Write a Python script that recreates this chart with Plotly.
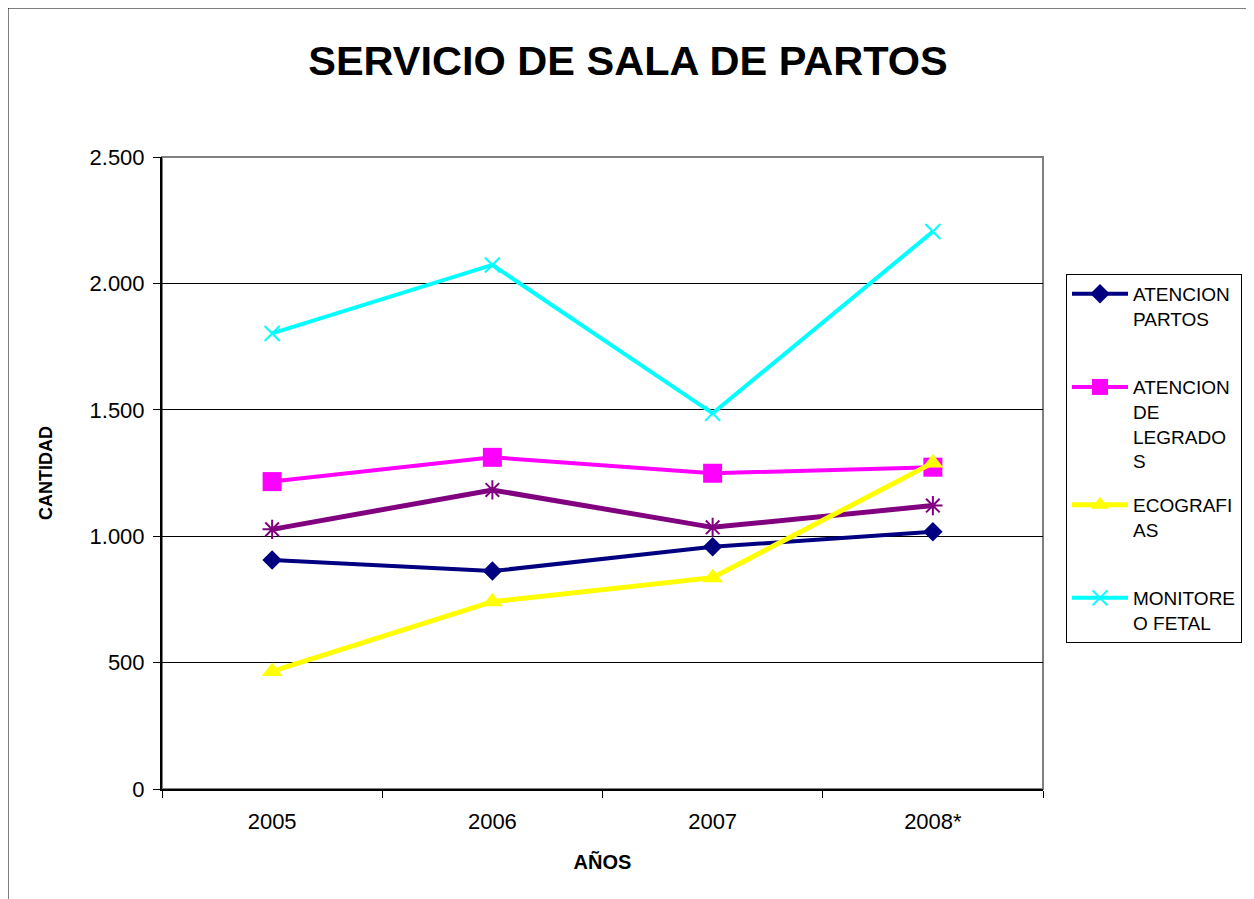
import plotly.graph_objects as go

# data
YEARS = ["2005", "2006", "2007", "2008*"]
ATENCION_PARTOS = [906, 862, 958, 1018]
ATENCION_LEGRADOS = [1216, 1312, 1249, 1273]
ECOGRAFIAS = [465, 741, 836, 1290]
MONITOREO_FETAL = [1802, 2073, 1486, 2205]
OTROS = [1027, 1183, 1035, 1121]  # purple series, cut off in the legend

# page has an 8px body margin, so the figure is laid out 8px smaller
OFF = 8
W, H = 1254 - OFF, 899 - OFF
L, T = 162 - OFF, 157 - OFF
R, B = W - (1043 - OFF), H - (789 - OFF)
PW, PH = W - L - R, H - T - B
FONT = "Liberation Sans, Arial, sans-serif"


def px_x(page_x):
    return (page_x - OFF - L) / PW


def px_y(page_y):
    return (H - B - (page_y - OFF)) / PH


series = [
    # name, values, colour, marker, size, line width, legend
    ("ATENCION<br>PARTOS<br> ", ATENCION_PARTOS, "#000080", "diamond", 15, 4, True),
    ("ATENCION<br>DE<br>LEGRADO<br>S", ATENCION_LEGRADOS, "#FF00FF", "square", 19, 4, True),
    ("ECOGRAFI<br>AS<br> ", ECOGRAFIAS, "#FFFF00", "triangle-up", 18, 5, True),
    ("MONITORE<br>O FETAL", MONITOREO_FETAL, "#00FFFF", "x-thin-open", 15, 4, True),
    ("OTROS", OTROS, "#800080", "asterisk-open", 16, 5, False),
]

fig = go.Figure()
# purple series drawn first so it sits under the others
for name, vals, color, sym, size, lw, show in series[-1:] + series[:-1]:
    thin = sym.endswith("-open")
    fig.add_trace(go.Scatter(
        x=YEARS, y=vals, name=name, mode="lines+markers", showlegend=show,
        legendgroup=name,
        line=dict(color=color, width=lw),
        marker=dict(symbol=sym, size=size, color=color,
                    line=dict(color=color, width=2 if thin else 0)),
    ))

# outer chart border
fig.add_shape(type="rect", xref="paper", yref="paper", layer="below",
              x0=px_x(OFF), x1=px_x(1251), y0=px_y(910), y1=px_y(OFF),
              line=dict(color="black", width=1), fillcolor="white")
# grey frame round the plot area
fig.add_shape(type="rect", xref="paper", yref="paper", x0=0, x1=1, y0=0, y1=1,
              line=dict(color="#808080", width=2), layer="below")

fig.update_layout(
    width=W, height=H,
    margin=dict(l=L, r=R, t=T, b=B, autoexpand=False),
    paper_bgcolor="white", plot_bgcolor="#C0C0C0",
    separators=",.",
    font=dict(family=FONT, color="black", size=22),
    title=dict(text="<b>SERVICIO DE SALA DE PARTOS</b>", x=(628 - OFF) / W, xanchor="center",
               y=1 - (60 - OFF) / H, yanchor="middle", font=dict(size=41.5, family=FONT)),
    legend=dict(x=px_x(1066), xanchor="left", y=px_y(274), yanchor="top",
                bgcolor="white", bordercolor="black", borderwidth=1,
                font=dict(size=19, family=FONT), valign="top", itemwidth=56,
                tracegroupgap=16),
    showlegend=True,
)
fig.update_xaxes(
    type="category", tickson="boundaries", ticks="outside", ticklen=7, tickcolor="black",
    showline=True, linecolor="black", linewidth=2, showgrid=False,
    tickfont=dict(size=22), range=[-0.5, 3.5], ticklabelstandoff=12,
    title=dict(text="<b>AÑOS</b>", font=dict(size=20), standoff=22),
)
fig.update_yaxes(
    range=[0, 2500], dtick=500, tickformat=",d", ticks="outside", ticklen=7, tickcolor="black",
    showline=True, linecolor="black", linewidth=2, showgrid=True, gridcolor="black",
    gridwidth=1, zeroline=False, tickfont=dict(size=22), ticklabelstandoff=4,
    title=dict(text="<b>CANTIDAD</b>", font=dict(size=18), standoff=32),
)

fig.write_html("out.html")
